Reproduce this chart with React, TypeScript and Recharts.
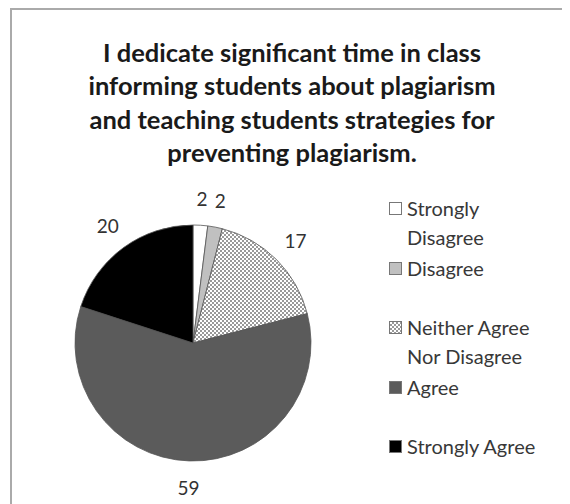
import { PieChart, Pie, Cell } from "recharts";

const CATEGORIES = ["Strongly Disagree", "Disagree", "Neither Agree Nor Disagree", "Agree", "Strongly Agree"];
const LEGEND_LINES = [["Strongly", "Disagree"], ["Disagree"], ["Neither Agree", "Nor Disagree"], ["Agree"], ["Strongly Agree"]];
const COUNTS = [2, 2, 17, 59, 20];
const FILLS = ["#ffffff", "#c0c0c0", "url(#hatch)", "#5b5b5b", "#000000"];
const SWATCHES = [
  "#ffffff",
  "#c0c0c0",
  "repeating-conic-gradient(#999 0 25%, #fff 0 50%) 0 0/4px 4px",
  "#5b5b5b",
  "#000000",
];
const TITLE_LINES = [
  "I dedicate significant time in class",
  "informing students about plagiarism",
  "and teaching students strategies for",
  "preventing plagiarism.",
];

const data = CATEGORIES.map((name, i) => ({ name, value: COUNTS[i] }));

const FONT = "Lato, 'Open Sans', sans-serif";
const RAD = Math.PI / 180;

const renderLabel = ({ cx, cy, midAngle, outerRadius, value }: any) => {
  const r = outerRadius + 27;
  const x = cx + r * Math.cos(-midAngle * RAD);
  const y = cy + r * Math.sin(-midAngle * RAD);
  return (
    <text x={x} y={y} fill="#333" fontSize={19} fontFamily={FONT} textAnchor="middle" dominantBaseline="central">
      {value}
    </text>
  );
};

function PieLegend() {
  return (
    <div
      style={{
        position: "absolute",
        top: 184,
        left: 377,
        width: 180,
        fontFamily: FONT,
        fontSize: 20,
        color: "#383838",
      }}
    >
      {CATEGORIES.map((name, i) => (
        <div key={name} style={{ display: "flex", height: 59.5, lineHeight: "29px" }}>
          <div
            style={{
              width: 11,
              height: 11,
              marginTop: 8,
              marginRight: 5,
              border: "1px solid #777",
              background: SWATCHES[i],
              flexShrink: 0,
            }}
          />
          <div style={{ whiteSpace: "nowrap" }}>
            {LEGEND_LINES[i].map((l) => (
              <div key={l}>{l}</div>
            ))}
          </div>
        </div>
      ))}
    </div>
  );
}

export default function App() {
  return (
    <div
      style={{
        position: "relative",
        marginLeft: 2,
        width: 580,
        height: 520,
        border: "2px solid #aaa",
        background: "#fff",
      }}
    >
      <div
        style={{
          position: "absolute",
          top: 26,
          left: 0,
          width: 560,
          textAlign: "center",
          fontFamily: FONT,
          fontWeight: 700,
          fontSize: 25.5,
          lineHeight: "33.3px",
          color: "#1a1a1a",
        }}
      >
        {TITLE_LINES.map((t) => (
          <div key={t}>{t}</div>
        ))}
      </div>
      <div style={{ position: "absolute", top: 0, left: 0 }}>
        <PieChart width={560} height={496}>
          <defs>
            <pattern id="hatch" width={4} height={4} patternUnits="userSpaceOnUse">
              <rect width={4} height={4} fill="#fff" />
              <rect width={2} height={2} fill="#999" />
              <rect x={2} y={2} width={2} height={2} fill="#999" />
            </pattern>
          </defs>
          <Pie
            data={data}
            dataKey="value"
            nameKey="name"
            cx={176}
            cy={328}
            outerRadius={118}
            startAngle={90}
            endAngle={-270}
            stroke="#555"
            strokeWidth={0.8}
            label={renderLabel}
            labelLine={false}
            isAnimationActive={false}
          >
            {data.map((_, i) => (
              <Cell key={i} fill={FILLS[i]} />
            ))}
          </Pie>
        </PieChart>
      </div>
      <PieLegend />
    </div>
  );
}
